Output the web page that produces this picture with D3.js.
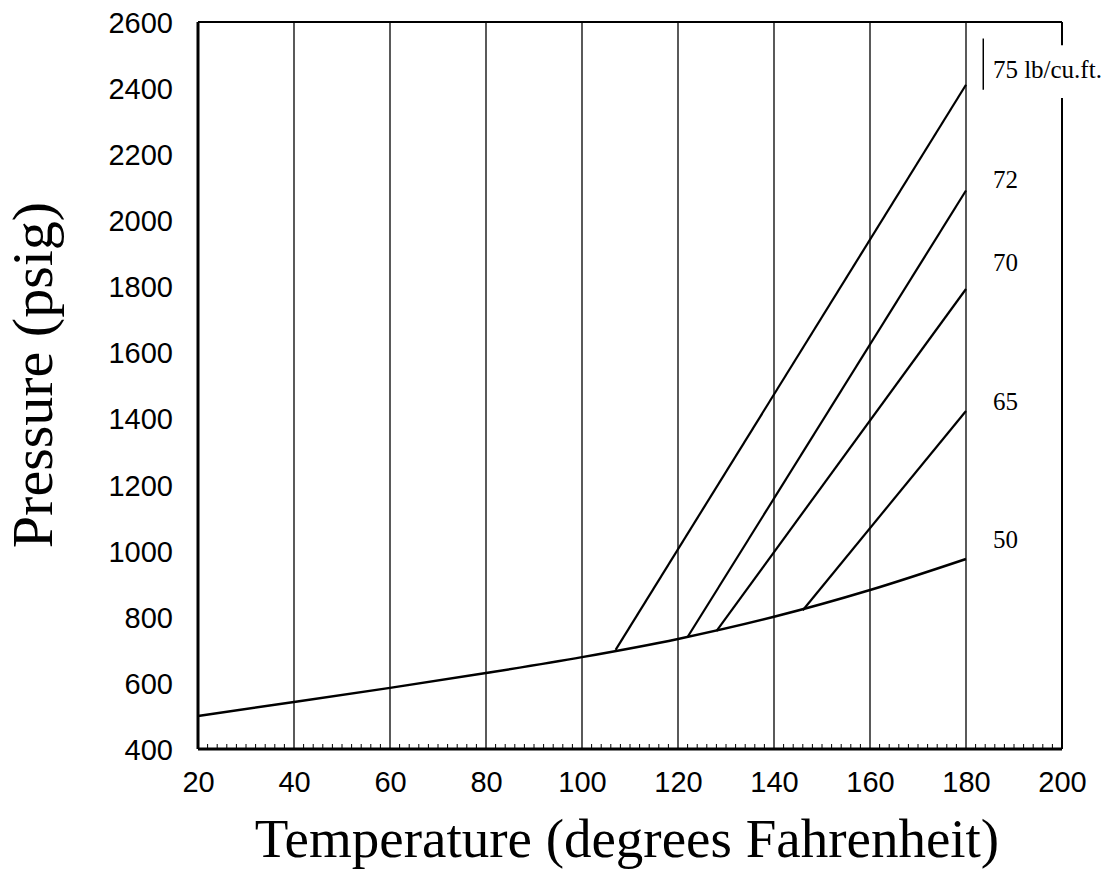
<!DOCTYPE html>
<html>
<head>
<meta charset="utf-8">
<script src="https://cdn.jsdelivr.net/npm/d3@7"></script>
<style>
  body { margin: 0; background: #fff; }
  svg { display: block; }
</style>
</head>
<body>
<div id="Chart"></div>
<script>
// values
var baseTemps = [20, 40, 60, 80, 100, 120, 140, 160, 180]
var basePress = [500, 542, 585, 630, 678, 733, 800, 881, 975]
var densities = ["75", "72", "70", "65"]
var lineStartT = [107, 122, 128, 146]
var lineStartP = [700, 739, 757, 820]
var lineEndT = [180, 180, 180, 180]
var lineEndP = [2410, 2090, 1792, 1423]
var labelText = ["75 lb/cu.ft.", "72", "70", "65", "50"]
var labelP = [2430, 2097, 1845, 1427, 1008]
var xTicks = [20, 40, 60, 80, 100, 120, 140, 160, 180, 200]
var yTicks = [400, 600, 800, 1000, 1200, 1400, 1600, 1800, 2000, 2200, 2400, 2600]

var margin = {top: 22, right: 55, bottom: 128, left: 198},
    Width = 1117,
    Height = 877,
    width = Width - margin.left - margin.right,
    height = Height - margin.top - margin.bottom

var svg = d3.select("#Chart")
  .append("svg")
    .attr("width", Width)
    .attr("height", Height)
  .append("g")
    .attr("transform", `translate(${margin.left},${margin.top})`)

var X = d3.scaleLinear().domain([20, 200]).range([0, width])
var Y = d3.scaleLinear().domain([400, 2600]).range([height, 0])

// vertical grid
svg.append("g")
  .selectAll("line")
  .data(xTicks.slice(1, -1))
  .enter()
  .append("line")
    .attr("x1", d => X(d)).attr("x2", d => X(d))
    .attr("y1", 0).attr("y2", height)
    .attr("stroke", "#000")
    .attr("stroke-width", 1.3)

// minor ticks on bottom axis, pointing up
svg.append("g")
  .selectAll("line")
  .data(d3.range(22, 200, 2).filter(d => d % 20 != 0))
  .enter()
  .append("line")
    .attr("x1", d => X(d)).attr("x2", d => X(d))
    .attr("y1", height).attr("y2", height - 5)
    .attr("stroke", "#000")
    .attr("stroke-width", 1)

// frame
svg.append("line").attr("x1", 0).attr("x2", width).attr("y1", 0).attr("y2", 0)
  .attr("stroke", "#000").attr("stroke-width", 2)
svg.append("line").attr("x1", width).attr("x2", width).attr("y1", 0).attr("y2", Y(2530))
  .attr("stroke", "#000").attr("stroke-width", 2)
svg.append("line").attr("x1", width).attr("x2", width).attr("y1", Y(2370)).attr("y2", height)
  .attr("stroke", "#000").attr("stroke-width", 2)
svg.append("line").attr("x1", 0).attr("x2", 0).attr("y1", 0).attr("y2", height)
  .attr("stroke", "#000").attr("stroke-width", 3)
svg.append("line").attr("x1", 0).attr("x2", width).attr("y1", height).attr("y2", height)
  .attr("stroke", "#000").attr("stroke-width", 3)

// axes tick labels
var xAxis = svg.append("g")
  .attr("transform", `translate(0,${height})`)
  .call(d3.axisBottom(X).tickValues(xTicks).tickSize(0).tickFormat(d3.format("d")))
xAxis.select(".domain").remove()
xAxis.selectAll("text")
  .attr("y", 43)
  .attr("dy", null)
  .style("font-family", "Liberation Sans, Arial, sans-serif")
  .style("font-size", "29px")
  .attr("fill", "#000")

var yAxis = svg.append("g")
  .call(d3.axisLeft(Y).tickValues(yTicks).tickSize(0).tickFormat(d3.format("d")))
yAxis.select(".domain").remove()
yAxis.selectAll("text")
  .attr("x", -25)
  .attr("dy", "0.36em")
  .style("font-family", "Liberation Sans, Arial, sans-serif")
  .style("font-size", "29px")
  .attr("fill", "#000")

// base curve (50 lb/cu.ft.)
var line = d3.line()
  .x((d, i) => X(baseTemps[i]))
  .y(d => Y(d))
  .curve(d3.curveMonotoneX)
svg.append("path")
  .datum(basePress)
  .attr("d", line)
  .attr("fill", "none")
  .attr("stroke", "#000")
  .attr("stroke-width", 2.5)

// density lines
svg.append("g")
  .selectAll("line")
  .data(densities)
  .enter()
  .append("line")
    .attr("x1", (d, i) => X(lineStartT[i]))
    .attr("y1", (d, i) => Y(lineStartP[i]))
    .attr("x2", (d, i) => X(lineEndT[i]))
    .attr("y2", (d, i) => Y(lineEndP[i]))
    .attr("stroke", "#000")
    .attr("stroke-width", 2.2)

// labels
svg.append("g")
  .selectAll("text")
  .data(labelText)
  .enter()
  .append("text")
    .attr("x", X(185.6))
    .attr("y", (d, i) => Y(labelP[i]))
    .text(d => d)
    .style("font-family", "Liberation Serif, Times New Roman, serif")
    .style("font-size", "25px")

svg.append("line")
  .attr("x1", X(183.6)).attr("x2", X(183.6))
  .attr("y1", Y(2550)).attr("y2", Y(2395))
  .attr("stroke", "#000").attr("stroke-width", 1.5)

// axis titles
svg.append("text")
  .attr("x", 429)
  .attr("y", height + 108)
  .attr("text-anchor", "middle")
  .style("font-family", "Liberation Serif, Times New Roman, serif")
  .style("font-size", "55px")
  .text("Temperature (degrees Fahrenheit)")

svg.append("text")
  .attr("transform", `translate(-146,${375 - margin.top})rotate(-90)`)
  .attr("text-anchor", "middle")
  .style("font-family", "Liberation Serif, Times New Roman, serif")
  .style("font-size", "58px")
  .text("Pressure (psig)")
</script>
</body>
</html>
